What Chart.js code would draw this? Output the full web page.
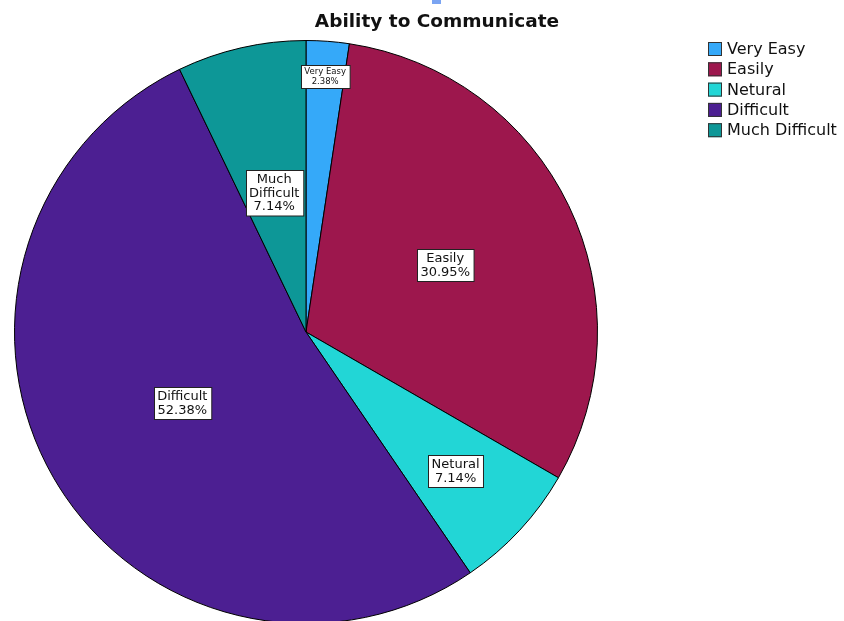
<!DOCTYPE html>
<html>
<head>
<meta charset="utf-8">
<script src="https://cdn.jsdelivr.net/npm/chart.js@4"></script>
<style>
  html, body { margin: 0; padding: 0; background: #fff; overflow: hidden; }
  .wrap { position: relative; width: 844px; height: 640px; }
</style>
</head>
<body>
<div class="wrap"><canvas id="pie" width="844" height="640"></canvas></div>
<script>
const categories = ["Very Easy", "Easily", "Netural", "Difficult", "Much Difficult"];
const percents = [2.38, 30.95, 7.14, 52.38, 7.14];
const boxLabels = [["Very Easy", "2.38%"], ["Easily", "30.95%"], ["Netural", "7.14%"], ["Difficult", "52.38%"], ["Much", "Difficult", "7.14%"]];
const sliceColors = ["#35a9f9", "#9d174d", "#22d6d6", "#4c1f92", "#0d9797"];
const labelDepth = [0.88, 0.53, 0.70, 0.49, 0.49];

const spssDecor = {
  id: "spssDecor",
  afterDraw(chart) {
    const ctx = chart.ctx;
    ctx.save();

    // stray marker at top
    ctx.fillStyle = "#7aa4f2";
    ctx.fillRect(432, 0, 9, 4);

    // title
    ctx.fillStyle = "#111";
    ctx.font = "bold 18.5px 'DejaVu Sans'";
    ctx.textAlign = "center";
    ctx.textBaseline = "middle";
    ctx.fillText("Ability to Communicate", 437, 22);

    // slice labels
    const arcs = chart.getDatasetMeta(0).data;
    arcs.forEach((arc, i) => {
      const mid = (arc.startAngle + arc.endAngle) / 2;
      const r = arc.outerRadius * labelDepth[i];
      const cx = arc.x + Math.cos(mid) * r;
      const cy = arc.y + Math.sin(mid) * r;
      const small = i === 0;
      const fs = small ? 8.5 : 13;
      const lh = small ? 9.5 : 13.5;
      ctx.font = fs + "px 'DejaVu Sans'";
      const lines = boxLabels[i];
      const w = Math.max(...lines.map(t => ctx.measureText(t).width)) + 7;
      const h = lines.length * lh + (small ? 4 : 5);
      const x0 = Math.round(cx - w / 2) + 0.5;
      const y0 = Math.round(cy - h / 2) + 0.5;
      ctx.fillStyle = "#fff";
      ctx.fillRect(x0, y0, w, h);
      ctx.strokeStyle = "#222";
      ctx.lineWidth = 1;
      ctx.strokeRect(x0, y0, w, h);
      ctx.fillStyle = "#111";
      ctx.textAlign = "center";
      ctx.textBaseline = "middle";
      lines.forEach((t, k) => {
        ctx.fillText(t, cx, y0 + (small ? 2 : 2.5) + lh * (k + 0.5));
      });
    });

    // legend
    ctx.font = "16px 'DejaVu Sans'";
    ctx.textAlign = "left";
    ctx.textBaseline = "middle";
    categories.forEach((name, i) => {
      const y = 49 + i * 20.3;
      ctx.fillStyle = sliceColors[i];
      ctx.fillRect(708, y - 7, 14, 14);
      ctx.strokeStyle = "#333";
      ctx.strokeRect(708.5, y - 6.5, 13, 13);
      ctx.fillStyle = "#111";
      ctx.fillText(name, 727, y + 1);
    });

    ctx.restore();
  }
};

new Chart(document.getElementById("pie"), {
  type: "pie",
  data: {
    labels: categories,
    datasets: [{
      data: percents,
      backgroundColor: sliceColors,
      borderColor: "#000",
      borderWidth: 1,
      hoverOffset: 0
    }]
  },
  options: {
    responsive: false,
    animation: false,
    layout: {
      padding: { left: 14, right: 246, top: 40, bottom: 16 }
    },
    plugins: {
      legend: { display: false },
      tooltip: { enabled: false },
      title: { display: false }
    }
  },
  plugins: [spssDecor]
});
</script>
</body>
</html>
